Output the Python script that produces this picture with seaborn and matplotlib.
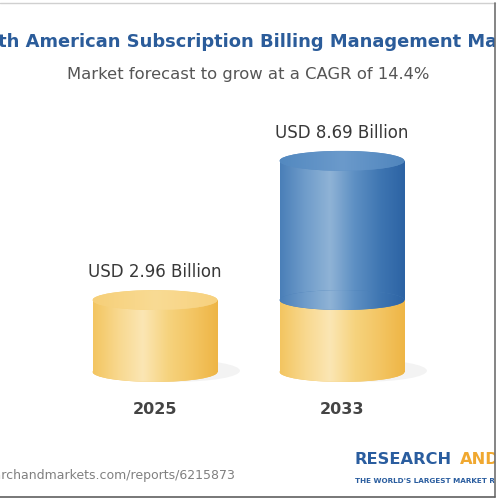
import numpy as np
import pandas as pd
import matplotlib
matplotlib.use('Agg')
import matplotlib.pyplot as plt
from matplotlib.patches import Ellipse, Rectangle
from matplotlib.colors import LinearSegmentedColormap
from matplotlib.lines import Line2D
import seaborn as sns

# Dados do gráfico
anos = ['2025', '2033']
valores = [2.96, 8.69]  # USD bilhões
rotulos = ['USD 2.96 Billion', 'USD 8.69 Billion']
titulo = 'North American Subscription Billing Management Market'
subtitulo = 'Market forecast to grow at a CAGR of 14.4%'
rodape = 'www.researchandmarkets.com/reports/6215873'

sns.set_theme(style='white')
plt.rcParams['font.family'] = ['DejaVu Sans']

# Paletas (gradiente horizontal do cilindro)
cmap_amarelo = LinearSegmentedColormap.from_list(
    'amarelo', ['#f3c560', '#f8d88e', '#fbe6b4', '#f6d37e', '#f3c563', '#eeb545'])
cmap_azul = LinearSegmentedColormap.from_list(
    'azul', ['#4a7fb8', '#6f9cca', '#8fb3d6', '#5d8fc3', '#3f76b2', '#2c63a4'])
cmap_amarelo_topo = LinearSegmentedColormap.from_list(
    'amarelo_topo', ['#f6cf78', '#f9db94', '#f7d17e'])
cmap_azul_topo = LinearSegmentedColormap.from_list(
    'azul_topo', ['#5389c0', '#6b9acb', '#4f85bd'])

fig = plt.figure(figsize=(5, 5), dpi=100)
fig.patch.set_facecolor('white')
ax = fig.add_axes([0, 0, 1, 1])

df = pd.DataFrame({'ano': anos, 'valor': valores})
df['base'] = valores[0]  # parte amarela = valor de 2025

largura = 0.668
# barra total (azul) e base (amarela)
sns.barplot(data=df, x='ano', y='valor', color='#4a7fb8', width=largura,
            saturation=1, ax=ax, zorder=3)
n_total = len(ax.patches)
sns.barplot(data=df, x='ano', y='base', color='#f6cd72', width=largura,
            saturation=1, ax=ax, zorder=2)

ax.set_xlim(-0.829, 1.845)
ax.set_ylim(-5.27, 15.31)
ax.axis('off')

grad = np.linspace(0, 1, 256).reshape(1, -1)
alt_elipse = 0.82


def preencher(patch, extent, cmap, z):
    im = ax.imshow(grad, extent=extent, aspect='auto', cmap=cmap,
                   zorder=z, interpolation='bicubic')
    im.set_clip_path(patch)


def ext_barra(p):
    return (p.get_x(), p.get_x() + p.get_width(), p.get_y(), p.get_y() + p.get_height())


def ext_elipse(cx, cy, w):
    return (cx - w / 2, cx + w / 2, cy - alt_elipse / 2, cy + alt_elipse / 2)


barras_azuis = ax.patches[:n_total]
barras_amarelas = ax.patches[n_total:]

for i, p in enumerate(barras_amarelas):
    w = p.get_width()
    cx = p.get_x() + w / 2
    # sombra
    sombra = Ellipse((cx + 0.12, 0.05), w, alt_elipse * 1.1,
                     facecolor='#d8d8d8', edgecolor='none', alpha=0.3, zorder=1)
    ax.add_patch(sombra)
    # base inferior
    el = Ellipse((cx, 0), w, alt_elipse, facecolor='#f3c563',
                 edgecolor='none', zorder=2)
    ax.add_patch(el)
    preencher(el, ext_elipse(cx, 0, w), cmap_amarelo, 2)
    p.set_edgecolor('none')
    preencher(p, ext_barra(p), cmap_amarelo, 2)
    if valores[i] <= valores[0]:
        topo = Ellipse((cx, valores[i]), w, alt_elipse,
                       facecolor='#f7d27d', edgecolor='none', zorder=4)
        ax.add_patch(topo)
        preencher(topo, ext_elipse(cx, valores[i], w), cmap_amarelo_topo, 4)

for i, p in enumerate(barras_azuis):
    w = p.get_width()
    cx = p.get_x() + w / 2
    p.set_edgecolor('none')
    if valores[i] <= valores[0]:
        p.set_visible(False)
        continue
    # a parte azul começa no topo da base amarela
    p.set_y(valores[0])
    p.set_height(valores[i] - valores[0])
    preencher(p, ext_barra(p), cmap_azul, 3)
    el = Ellipse((cx, valores[0]), w, alt_elipse, facecolor='#4a7fb8',
                 edgecolor='none', zorder=3)
    ax.add_patch(el)
    preencher(el, ext_elipse(cx, valores[0], w), cmap_azul, 3)
    topo = Ellipse((cx, valores[i]), w, alt_elipse,
                   facecolor='#5a8dc3', edgecolor='none', zorder=4)
    ax.add_patch(topo)
    preencher(topo, ext_elipse(cx, valores[i], w), cmap_azul_topo, 4)

ax.set_xlim(-0.829, 1.845)
ax.set_ylim(-5.27, 15.31)

# rótulos de valor e anos
for i, (v, r) in enumerate(zip(valores, rotulos)):
    ax.annotate(r, (i, v), xytext=(0, 20), textcoords='offset points',
                ha='center', va='center', fontsize=12, color='#383838')
    ax.text(i, -1.56, anos[i], ha='center', va='center', fontsize=11.5,
            fontweight='bold', color='#444444')

# título e subtítulo
fig.text(0.5, 1 - 42 / 500, titulo, ha='center', va='center', fontsize=12.9,
         fontweight='bold', color='#2b5c9a')
fig.text(0.497, 1 - 75 / 500, subtitulo, ha='center', va='center', fontsize=11.8,
         color='#555555')

# rodapé
fig.text(235 / 500, 1 - 475 / 500, rodape, ha='right', va='center', fontsize=9,
         color='#808080')
fig.text(355 / 500, 1 - 460 / 500, 'RESEARCH', ha='left', va='center',
         fontsize=11.7, fontweight='bold', color='#2a5d9f')
fig.text(460 / 500, 1 - 460 / 500, 'AND', ha='left', va='center',
         fontsize=11.7, fontweight='bold', color='#f0a830')
fig.text(355 / 500, 1 - 481 / 500, "THE WORLD'S LARGEST MARKET RESEARCH STORE",
         ha='left', va='center', fontsize=5.2, fontweight='bold', color='#2a5d9f')

# bordas da captura
fig.add_artist(Rectangle((495 / 500, 0), 5 / 500, 1, transform=fig.transFigure,
                         facecolor='white', edgecolor='none', zorder=9))
fig.add_artist(Line2D([0, 495 / 500], [1 - 3 / 500] * 2, transform=fig.transFigure,
                      color='#d0d0d0', lw=1, zorder=10))
fig.add_artist(Line2D([495 / 500] * 2, [3 / 500, 1 - 3 / 500], transform=fig.transFigure,
                      color='#707070', lw=1.2, zorder=10))
fig.add_artist(Line2D([0, 495 / 500], [3 / 500] * 2, transform=fig.transFigure,
                      color='#606060', lw=1.2, zorder=10))

fig.savefig('out.png', dpi=100)
